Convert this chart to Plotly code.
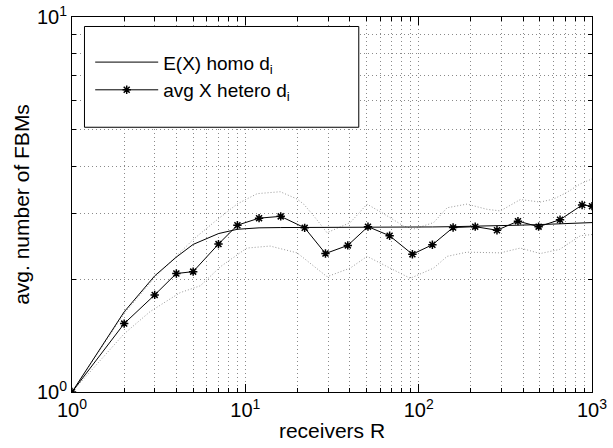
import plotly.graph_objects as go

# receivers R (x) for the measured series
R = [1, 2, 3, 4, 5, 7, 9, 12, 16, 22, 29, 39, 51, 68, 92, 120, 158, 212, 283, 374, 492, 654, 877, 1000]
# E(X) homo d_i
E_homo = [1.0, 1.636, 2.04, 2.29, 2.475, 2.645, 2.716, 2.74, 2.745, 2.745, 2.745, 2.746, 2.748, 2.75,
          2.752, 2.755, 2.76, 2.765, 2.775, 2.785, 2.795, 2.81, 2.82, 2.83]
# avg X hetero d_i
X_hetero = [1.0, 1.522, 1.815, 2.07, 2.094, 2.48, 2.785, 2.908, 2.94, 2.74, 2.34, 2.46, 2.76, 2.61,
            2.33, 2.47, 2.745, 2.76, 2.70, 2.855, 2.76, 2.88, 3.153, 3.13]

# dotted bands (upper / lower)
upper_x = [1, 2, 3, 4, 5, 6.56, 8.95, 11.7, 15.9, 19.9, 21.7, 24.8, 29.6, 40.3, 50.4, 65.7, 81.9, 93.6,
           122, 146, 190, 248, 296, 386, 503, 601, 718, 857, 1000]
upper_y = [1, 1.62, 2.02, 2.3, 2.55, 2.83, 3.17, 3.38, 3.42, 3.27, 3.17, 2.95, 2.66, 2.83, 3.17, 2.95, 2.77,
           2.72, 2.83, 3.1, 3.17, 3.07, 3.04, 3.26, 3.21, 3.27, 3.41, 3.59, 3.70]
lower_x = [1, 2, 2.83, 4.2, 5.5, 7.2, 10.2, 13.9, 19.9, 25.9, 29.6, 40.3, 50.4, 65.7, 89.5, 122, 146, 190,
           296, 386, 503, 650, 857, 1000]
lower_y = [1, 1.43, 1.64, 1.84, 1.92, 2.16, 2.42, 2.45, 2.35, 2.14, 2.03, 2.14, 2.30, 2.16, 2.01, 2.14,
           2.30, 2.36, 2.35, 2.42, 2.34, 2.40, 2.61, 2.63]

x_ticks = [1, 10, 100, 1000]
x_ticktext = ["10<sup>0</sup>", "10<sup>1</sup>", "10<sup>2</sup>", "10<sup>3</sup>"]
y_ticks = [1, 10]
y_ticktext = ["10<sup>0</sup>", "10<sup>1</sup>"]
x_minor = [m * d for d in (1, 10, 100) for m in range(2, 10)]
y_minor = list(range(2, 10))

FONT = "Liberation Sans, Arial, Helvetica, sans-serif"
GRID = "#8a8a8a"

fig = go.Figure()
fig.add_trace(go.Scatter(x=upper_x, y=upper_y, mode="lines", showlegend=False,
                         line=dict(color="#9a9a9a", width=1, dash="1px,2px")))
fig.add_trace(go.Scatter(x=lower_x, y=lower_y, mode="lines", showlegend=False,
                         line=dict(color="#9a9a9a", width=1, dash="1px,2px")))
fig.add_trace(go.Scatter(x=R, y=E_homo, mode="lines", name="E(X) homo d<sub>i</sub>",
                         line=dict(color="black", width=1)))
fig.add_trace(go.Scatter(x=R, y=X_hetero, mode="lines+markers", name="avg X hetero d<sub>i</sub>",
                         line=dict(color="black", width=1),
                         marker=dict(symbol="asterisk", size=7, color="black",
                                     line=dict(color="black", width=1.5))))

axis_common = dict(
    type="log", showline=True, linecolor="black", linewidth=1, mirror="allticks",
    ticks="inside", ticklen=8, tickcolor="black", tickwidth=1, automargin=False,
    ticklabeloverflow="allow",
    showgrid=True, gridcolor=GRID, gridwidth=1, griddash="1px,3px",
    zeroline=False, tickfont=dict(family=FONT, size=20, color="black"),
)
fig.update_xaxes(**axis_common, range=[0, 3], tickmode="array", tickvals=x_ticks, ticktext=x_ticktext,
                 minor=dict(tickmode="array", tickvals=x_minor, ticks="inside", ticklen=4,
                            tickcolor="black", showgrid=True, gridcolor=GRID, griddash="1px,3px", gridwidth=1),
                 title=dict(text="receivers R", font=dict(family=FONT, size=21, color="black"), standoff=3))
fig.update_yaxes(**axis_common, range=[0, 1], tickmode="array", tickvals=y_ticks, ticktext=y_ticktext,
                 minor=dict(tickmode="array", tickvals=y_minor, ticks="inside", ticklen=4,
                            tickcolor="black", showgrid=True, gridcolor=GRID, griddash="1px,3px", gridwidth=1),
                 title=dict(text="avg. number of FBMs", font=dict(family=FONT, size=21, color="black"), standoff=1))

fig.add_shape(type="rect", xref="paper", yref="paper", x0=0.024, x1=0.5515, y0=0.706, y1=0.9747,
              line=dict(color="black", width=1), fillcolor="white", layer="above")

fig.update_layout(
    width=613, height=448,
    margin=dict(l=72, r=21, t=17, b=56),
    paper_bgcolor="white", plot_bgcolor="white",
    font=dict(family=FONT, color="black"),
    legend=dict(x=0.035, y=0.93, xanchor="left", yanchor="top", bgcolor="rgba(0,0,0,0)",
                borderwidth=0, font=dict(family=FONT, size=19, color="black"),
                itemwidth=63, tracegroupgap=0),
)

# remove the browser's default 8px body margin so the figure sits at the page origin
fig.write_html("out.html", config={"displayModeBar": False},
               post_script="document.body.style.margin='0';")
